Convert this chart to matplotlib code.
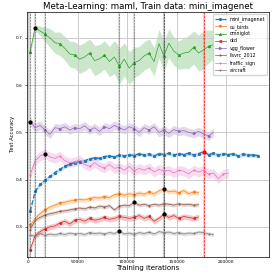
import numpy as np
import matplotlib
matplotlib.use("Agg")
import matplotlib.pyplot as plt

# evaluation steps (every 5000 iterations, starting at 2000)
iters = np.arange(2000, 233000, 5000)

names = ["mini_imagenet", "cu_birds", "omniglot", "dtd",
         "vgg_flower", "llsvrc_2012", "traffic_sign", "aircraft"]
train_data = "mini_imagenet"

mini_imagenet = [0.333, 0.375, 0.390, 0.399, 0.407, 0.415, 0.422, 0.428, 0.433, 0.436,
                 0.438, 0.440, 0.444, 0.446, 0.445, 0.449, 0.450, 0.448, 0.452, 0.450,
                 0.453, 0.451, 0.455, 0.452, 0.454, 0.450, 0.455, 0.453, 0.456, 0.452,
                 0.455, 0.453, 0.456, 0.452, 0.455, 0.459, 0.453, 0.456, 0.452, 0.455,
                 0.453, 0.455, 0.450, 0.454, 0.452, 0.452, 0.451]
cu_birds = [0.303, 0.318, 0.328, 0.336, 0.342, 0.346, 0.350, 0.352, 0.355, 0.356,
            0.358, 0.357, 0.360, 0.362, 0.361, 0.364, 0.362, 0.368, 0.370, 0.367,
            0.370, 0.368, 0.372, 0.369, 0.374, 0.370, 0.376, 0.381, 0.374, 0.376,
            0.372, 0.377, 0.370, 0.374, 0.372]
omniglot = [0.671, 0.722, 0.715, 0.708, 0.700, 0.690, 0.688, 0.678, 0.666, 0.664,
            0.655, 0.660, 0.668, 0.652, 0.656, 0.664, 0.650, 0.660, 0.640, 0.655,
            0.636, 0.648, 0.652, 0.662, 0.668, 0.650, 0.688, 0.662, 0.689, 0.672,
            0.664, 0.668, 0.670, 0.680, 0.668, 0.675, 0.682, 0.686]
dtd = [0.252, 0.282, 0.290, 0.296, 0.300, 0.302, 0.308, 0.312, 0.306, 0.314,
       0.316, 0.312, 0.318, 0.314, 0.316, 0.320, 0.316, 0.318, 0.322, 0.320,
       0.318, 0.320, 0.324, 0.318, 0.322, 0.312, 0.318, 0.327, 0.320, 0.324,
       0.318, 0.322, 0.320, 0.318, 0.321]
vgg_flower = [0.523, 0.510, 0.515, 0.505, 0.496, 0.510, 0.508, 0.512, 0.505, 0.510,
              0.508, 0.514, 0.505, 0.510, 0.502, 0.512, 0.508, 0.515, 0.510, 0.505,
              0.512, 0.508, 0.500, 0.510, 0.505, 0.512, 0.500, 0.505, 0.498, 0.506,
              0.502, 0.504, 0.500, 0.498, 0.502, 0.497, 0.492, 0.500]
llsvrc_2012 = [0.294, 0.314, 0.320, 0.325, 0.328, 0.330, 0.333, 0.334, 0.336, 0.338,
               0.340, 0.338, 0.342, 0.340, 0.344, 0.342, 0.345, 0.336, 0.344, 0.346,
               0.345, 0.352, 0.346, 0.348, 0.345, 0.348, 0.346, 0.349, 0.348, 0.346,
               0.349, 0.347, 0.348, 0.346, 0.347]
traffic_sign = [0.410, 0.440, 0.450, 0.455, 0.448, 0.445, 0.450, 0.440, 0.436, 0.438,
                0.442, 0.432, 0.428, 0.436, 0.428, 0.425, 0.432, 0.424, 0.426, 0.420,
                0.428, 0.418, 0.424, 0.420, 0.425, 0.416, 0.422, 0.418, 0.420, 0.414,
                0.420, 0.418, 0.412, 0.420, 0.416, 0.420, 0.412, 0.414, 0.402, 0.412,
                0.414]
aircraft = [0.283, 0.280, 0.286, 0.282, 0.285, 0.283, 0.286, 0.284, 0.287, 0.285,
            0.286, 0.284, 0.288, 0.286, 0.287, 0.285, 0.288, 0.286, 0.291, 0.285,
            0.287, 0.284, 0.288, 0.286, 0.289, 0.285, 0.290, 0.288, 0.289, 0.286,
            0.288, 0.285, 0.287, 0.286, 0.289, 0.288, 0.285, 0.284]

# spread over runs
omniglot_std = [0.008, 0.006, 0.010, 0.015, 0.020, 0.022, 0.025, 0.025, 0.027, 0.028,
                0.030, 0.030, 0.030, 0.032, 0.030, 0.030, 0.032, 0.035, 0.038, 0.035,
                0.035, 0.032, 0.030, 0.030, 0.030, 0.030, 0.030, 0.032, 0.030, 0.030,
                0.030, 0.032, 0.035, 0.035, 0.038, 0.040, 0.035, 0.030]
std_level = {"mini_imagenet": 0.004, "cu_birds": 0.005, "dtd": 0.006,
             "vgg_flower": 0.009, "llsvrc_2012": 0.004, "traffic_sign": 0.010,
             "aircraft": 0.004}

series = {"mini_imagenet": mini_imagenet, "cu_birds": cu_birds, "omniglot": omniglot,
          "dtd": dtd, "vgg_flower": vgg_flower, "llsvrc_2012": llsvrc_2012,
          "traffic_sign": traffic_sign, "aircraft": aircraft}
markers = ["o", "v", "^", "<", ">", "1", "2", "3"]

fig = plt.figure(figsize=(2.74, 2.73), dpi=100)
ax = fig.add_axes([0.097, 0.060, 0.886, 0.896])

for i, name in enumerate(names):
    y = np.array(series[name])
    x = iters[:len(y)]
    if name == "omniglot":
        s = np.array(omniglot_std)
    else:
        s = np.full(len(y), std_level[name])
    c = "C%d" % i
    if name == train_data:
        ax.plot(x, y, color=c, marker=markers[i], markersize=1.3, lw=0.9,
                ls="--", label=name)
    else:
        ax.plot(x, y, color=c, marker=markers[i], markersize=1.4, lw=0.5,
                markevery=(0, 3), label=name)
    ax.fill_between(x, y - s, y + s, color=c, alpha=0.25, lw=0)

    best = int(np.argmax(y))
    if name == train_data:
        ax.axvline(x[best], color="red", lw=1.6, alpha=0.2)
        ax.axvline(x[best], color="red", ls="--", lw=0.5)
        ax.plot(x[best], y[best], "o", color="red", markersize=2.0, zorder=5)
    else:
        ax.axvline(x[best], color="gray", lw=1.6, alpha=0.25)
        ax.axvline(x[best], color="k", ls="--", lw=0.4, alpha=0.6)
        ax.plot(x[best], y[best], "o", color="k", markersize=2.0, zorder=5)

ax.set_xlim(-1600, 243400)
ax.set_ylim(0.237, 0.755)
ax.set_yticks([0.3, 0.4, 0.5, 0.6, 0.7])
ax.set_xticks([0, 50000, 100000, 150000, 200000])
ax.grid(True, color="#cccccc", lw=0.7)
ax.tick_params(labelsize=3.2, length=1.5, width=0.4, pad=1)
for sp in ax.spines.values():
    sp.set_linewidth(0.5)
ax.set_xlabel("Training iterations", fontsize=5, labelpad=1)
ax.set_ylabel("Test Accuracy", fontsize=3.8, labelpad=1)
ax.set_title("Meta-Learning: maml, Train data: mini_imagenet", fontsize=6.2, pad=2)
ax.legend(loc="upper right", fontsize=3.4, frameon=True, handlelength=2.2,
          borderpad=0.4, labelspacing=0.4, framealpha=0.8)

fig.savefig("out.png", dpi=100)
